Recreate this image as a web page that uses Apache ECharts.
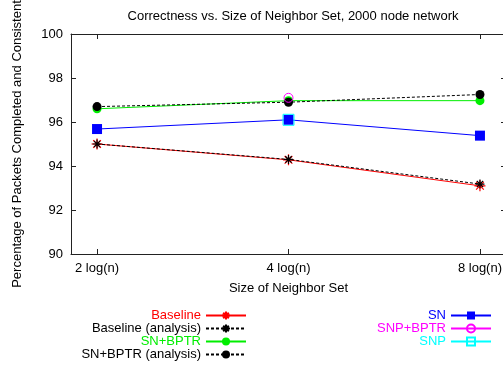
<!DOCTYPE html>
<html><head><meta charset="utf-8">
<script src="https://cdn.jsdelivr.net/npm/echarts@6/dist/echarts.min.js"></script>
<style>html,body{margin:0;padding:0;background:#fff}#c{width:503px;height:367px}</style>
</head><body><div id="c"></div>
<script>
const xPositions = [1, 2, 3];
const xLabels = ['2 log(n)', '4 log(n)', '8 log(n)'];
const yTicks = [90, 92, 94, 96, 98, 100];
const baseline = [95.0, 94.28, 93.1];
const baselineAnalysis = [95.0, 94.3, 93.18];
const snBptr = [96.6, 96.97, 96.97];
const snBptrAnalysis = [96.7, 96.9, 97.25];
const sn = [95.68, 96.1, 95.38];
const snpBptr = [null, 97.1, null];
const snp = [null, 96.1, null];

const FONT = 'Liberation Sans';
const FS = 13;
const star = 'path://M5,0L5,10M0,5L10,5M1.5,1.5L8.5,8.5M8.5,1.5L1.5,8.5';
function pts(arr){ return arr.map((v,i)=> v==null ? null : [xPositions[i], v]); }

function mk(name, data, color, opts){
  return {
    name, type:'line', data: pts(data), connectNulls:false, showAllSymbol:true,
    lineStyle:{color, width:1, type: opts.dash ? [3,2] : 'solid'},
    itemStyle:{color: opts.fill, borderColor: opts.border || color, borderWidth: opts.bw || 0, opacity:1},
    symbol: opts.symbol, symbolSize: opts.size,
    emphasis:{disabled:true}, animation:false, z: opts.z || 2
  };
}

const series = [
  mk('Baseline', baseline, '#ff0000', {symbol: star, size: 11, fill:'transparent', border:'#ff0000', bw:1.2, z:2}),
  mk('Baseline (analysis)', baselineAnalysis, '#000000', {dash:true, symbol: star, size: 9, fill:'transparent', border:'#000000', bw:1.2, z:3}),
  mk('SN+BPTR', snBptr, '#00ee00', {symbol:'circle', size: 9, fill:'#00ee00', z:4}),
  mk('SN+BPTR (analysis)', snBptrAnalysis, '#000000', {dash:true, symbol:'circle', size: 9, fill:'#000000', z:5}),
  mk('SN', sn, '#0000ff', {symbol:'rect', size: 10, fill:'#0000ff', z:6}),
  mk('SNP+BPTR', snpBptr, '#ff00ff', {symbol:'circle', size: 9, fill:'transparent', border:'#ff00ff', bw:1, z:7}),
  mk('SNP', snp, '#00ffff', {symbol:'rect', size: 11, fill:'transparent', border:'#00ffff', bw:1, z:8})
];

const legendColors = {'Baseline':'#ff0000','Baseline (analysis)':'#000000','SN+BPTR':'#00ee00','SN+BPTR (analysis)':'#000000','SN':'#0000ff','SNP+BPTR':'#ff00ff','SNP':'#00ffff'};
function legendItems(names){ return names.map(n=>({name:n, textStyle:{color:legendColors[n]}})); }

const axisColor = '#222';
const legendCommon = {orient:'vertical', align:'right', top:309, height:80, padding:0,
  itemWidth:40, itemHeight:10, itemGap:0, textStyle:{fontSize:FS, lineHeight:10, fontFamily:FONT}, selectedMode:false};
const option = {
  animation:false,
  textStyle:{fontFamily:FONT},
  title:{text:'Correctness vs. Size of Neighbor Set, 2000 node network', left:288, textAlign:'center', top:5,
    textStyle:{fontSize:FS, fontWeight:'normal', color:'#000', fontFamily:FONT}},
  grid:{left:71, right:-3, top:34, bottom:113, containLabel:false, outerBoundsMode:'none'},
  legend:[
    Object.assign({}, legendCommon, {data: legendItems(['Baseline','Baseline (analysis)','SN+BPTR','SN+BPTR (analysis)']), right:256}),
    Object.assign({}, legendCommon, {data: legendItems(['SN','SNP+BPTR','SNP']), right:11})
  ],
  xAxis:[
    {type:'value', min:0.864, max:3.136, position:'bottom',
     name:'Size of Neighbor Set', nameLocation:'middle', nameGap:28,
     nameTextStyle:{fontSize:FS, color:'#000', fontFamily:FONT},
     axisLine:{lineStyle:{color:axisColor, width:1}},
     axisTick:{inside:true, length:5, customValues:xPositions, lineStyle:{color:axisColor}},
     axisLabel:{customValues:xPositions, formatter:(v)=> xLabels[xPositions.indexOf(v)] || '', color:'#000', fontSize:FS, margin:8, fontFamily:FONT},
     splitLine:{show:false}},
    {type:'value', min:0.864, max:3.136, position:'top',
     axisLine:{show:true, lineStyle:{color:axisColor, width:1}},
     axisTick:{inside:true, length:5, customValues:xPositions, lineStyle:{color:axisColor}},
     axisLabel:{show:false}, splitLine:{show:false}}
  ],
  yAxis:[
    {type:'value', min:90, max:100, interval:2,
     name:'Percentage of Packets Completed and Consistent', nameLocation:'middle', nameGap:47,
     nameTextStyle:{fontSize:FS, color:'#000', fontFamily:FONT},
     axisLine:{show:true, lineStyle:{color:axisColor, width:1}},
     axisTick:{show:true, inside:true, length:5, lineStyle:{color:axisColor}},
     axisLabel:{color:'#000', fontSize:FS, margin:8, fontFamily:FONT, formatter:(v)=> yTicks.includes(v) ? String(v) : ''},
     splitLine:{show:false}},
    {type:'value', min:90, max:100, interval:2, position:'right',
     axisLine:{show:true, lineStyle:{color:axisColor, width:1}},
     axisTick:{show:true, inside:true, length:5, lineStyle:{color:axisColor}},
     axisLabel:{show:false}, splitLine:{show:false}}
  ],
  series
};
const chart = echarts.init(document.getElementById('c'), null, {renderer:'canvas'});
chart.setOption(option);
</script></body></html>
